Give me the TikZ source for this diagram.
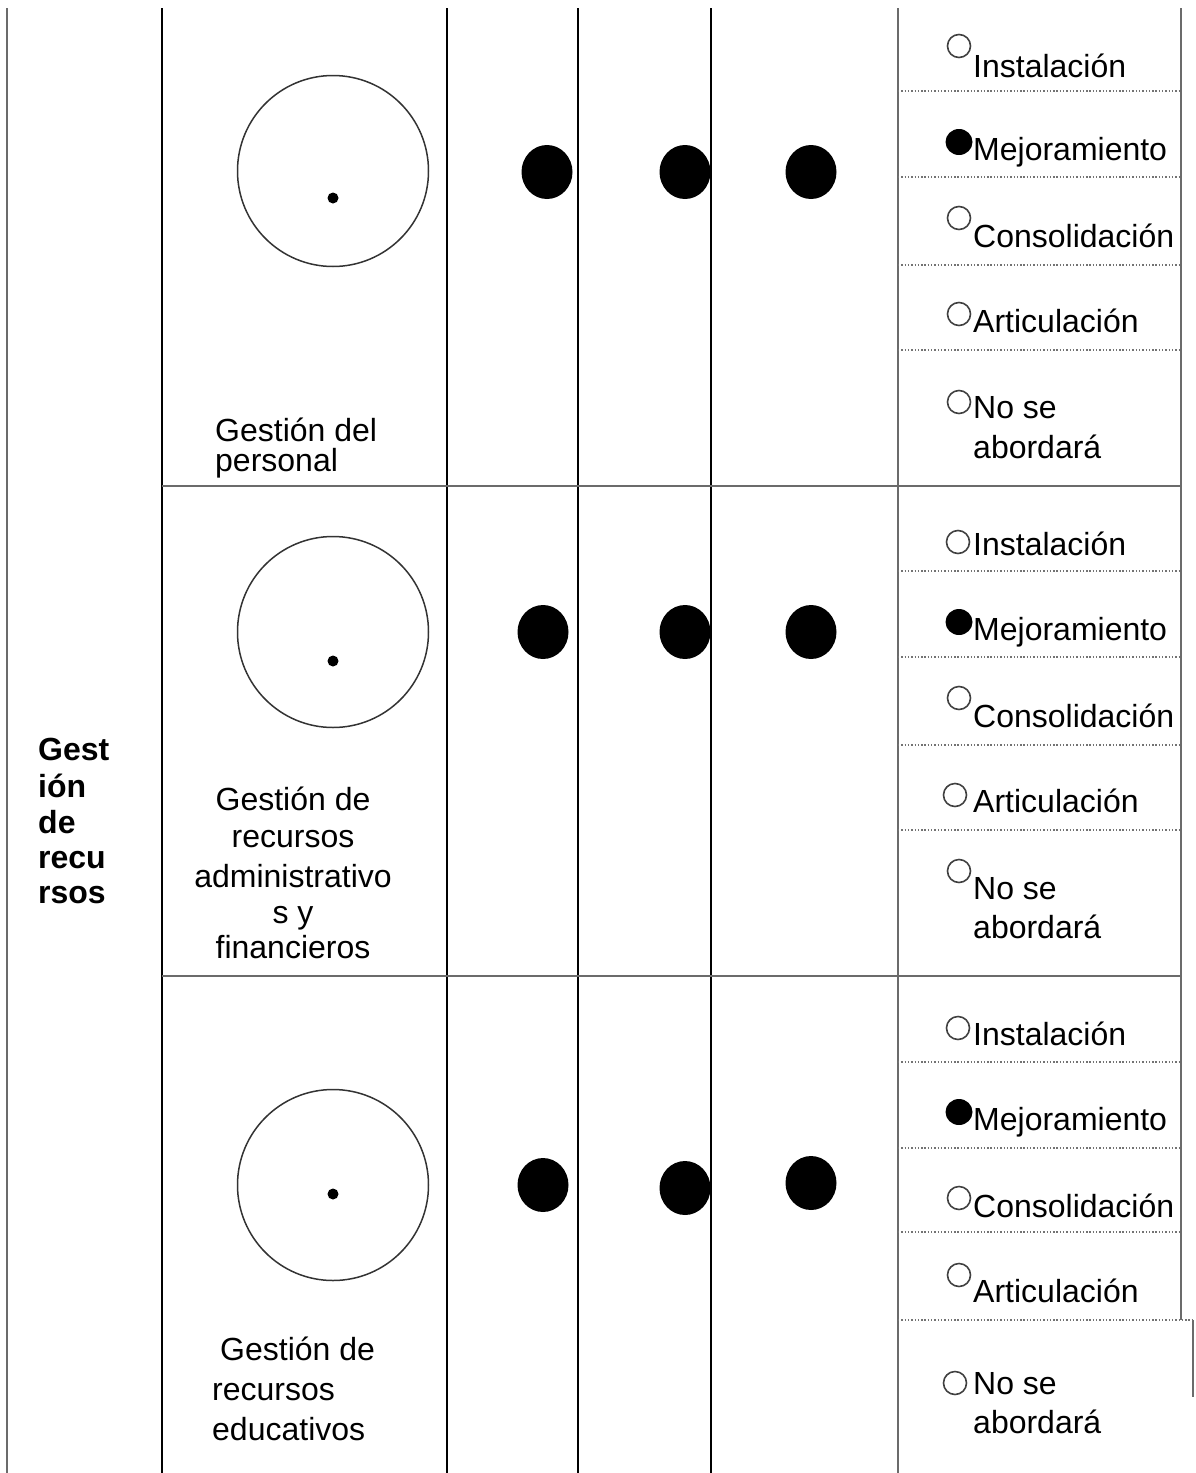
\documentclass[tikz,border=0pt]{standalone}
\usepackage{fontspec}
\setmainfont{Liberation Sans}
\usetikzlibrary{shapes.geometric}
\begin{document}
\begin{tikzpicture}[x=1pt,y=-1pt,
  gline/.style={line width=2pt, draw=black!58},
  bline/.style={line width=2pt, draw=black},
  dotline/.style={line width=1.2pt, draw=black!55, dash pattern=on 1.4pt off 1.9pt},
  txt/.style={anchor=base west, inner sep=0pt, font=\fontsize{32}{37}\selectfont},
  ctxt/.style={anchor=base, inner sep=0pt, font=\fontsize{32}{37}\selectfont},
  btxt/.style={anchor=base west, inner sep=0pt, font=\fontsize{32}{36}\selectfont\bfseries},
  bigc/.style={circle, draw=black!80, line width=1.5pt, minimum size=191pt, inner sep=0pt},
  dotc/.style={circle, fill=black, minimum size=11pt, inner sep=0pt},
  blob/.style={ellipse, fill=black, minimum width=51pt, minimum height=54pt, inner sep=0pt},
  radio/.style={circle, draw=black!75, line width=1.6pt, minimum size=23pt, inner sep=0pt},
  radiof/.style={ellipse, fill=black, minimum width=27pt, minimum height=26pt, inner sep=0pt},
]
\useasboundingbox (0,0) rectangle (1195,1473);
% vertical rules
\draw[gline] (7,8) -- (7,1473);
\draw[bline] (162,8) -- (162,1473);
\draw[bline] (447,8) -- (447,1473);
\draw[bline] (578,8) -- (578,1473);
\draw[bline] (711,8) -- (711,1473);
\draw[gline] (898,8) -- (898,1473);
\draw[gline] (1181,8) -- (1181,1320);
\draw[gline] (1193,1320) -- (1193,1397);
% horizontal rules
\draw[gline] (162,486) -- (1181,486);
\draw[gline] (162,976) -- (1181,976);
% dotted separators
\foreach \yy in {91,177,265,350,571,657,745,830,1062,1148,1232}
  \draw[dotline] (898,\yy) -- (1181,\yy);
\draw[dotline] (898,1320) -- (1193,1320);
% big circles with dots
\node[bigc] (c1) at (333,171) {};
\node[bigc] (c2) at (333,632) {};
\node[bigc] (c3) at (333,1185) {};
\node[dotc] (d1) at (333,198) {};
\node[dotc] (d2) at (333,661) {};
\node[dotc] (d3) at (333,1194) {};
% filled blobs
\node[blob] (b11) at (547,172) {};
\node[blob] (b12) at (685,172) {};
\node[blob] (b13) at (811,172) {};
\node[blob] (b21) at (543,632) {};
\node[blob] (b22) at (685,632) {};
\node[blob] (b23) at (811,632) {};
\node[blob] (b31) at (543,1185) {};
\node[blob] (b32) at (685,1188) {};
\node[blob] (b33) at (811,1183) {};
% left bold label
\node[btxt] (g1) at (38,760) {Gest};
\node[btxt] (g2) at (38,797) {ión};
\node[btxt] (g3) at (38,833) {de};
\node[btxt] (g4) at (38,868) {recu};
\node[btxt] (g5) at (38,903) {rsos};
% second column labels
\node[txt] (l11) at (215,441) {Gestión del};
\node[txt] (l12) at (215,471) {personal};
\node[ctxt] (l21) at (293,810) {Gestión de};
\node[ctxt] (l22) at (293,847) {recursos};
\node[ctxt] (l23) at (293,887) {administrativo};
\node[ctxt] (l24) at (293,923) {s y};
\node[ctxt] (l25) at (293,958) {financieros};
\node[txt] (l31) at (220,1360) {Gestión de};
\node[txt] (l32) at (212,1400) {recursos};
\node[txt] (l33) at (212,1440) {educativos};
% radio buttons row 1
\node[radio]  (r11) at (959,46) {};
\node[radiof] (r12) at (959,142) {};
\node[radio]  (r13) at (959,218) {};
\node[radio]  (r14) at (959,314) {};
\node[radio]  (r15) at (959,402) {};
\node[txt] (t11) at (973,77) {Instalación};
\node[txt] (t12) at (973,160) {Mejoramiento};
\node[txt] (t13) at (973,247) {Consolidación};
\node[txt] (t14) at (973,332) {Articulación};
\node[txt] (t15) at (973,418) {No se};
\node[txt] (t16) at (973,458) {abordará};
% radio buttons row 2
\node[radio]  (r21) at (958,542) {};
\node[radiof] (r22) at (959,622) {};
\node[radio]  (r23) at (959,698) {};
\node[radio]  (r24) at (955,795) {};
\node[radio]  (r25) at (959,871) {};
\node[txt] (t21) at (973,555) {Instalación};
\node[txt] (t22) at (973,640) {Mejoramiento};
\node[txt] (t23) at (973,727) {Consolidación};
\node[txt] (t24) at (973,812) {Articulación};
\node[txt] (t25) at (973,899) {No se};
\node[txt] (t26) at (973,938) {abordará};
% radio buttons row 3
\node[radio]  (r31) at (958,1028) {};
\node[radiof] (r32) at (959,1112) {};
\node[radio]  (r33) at (959,1198) {};
\node[radio]  (r34) at (959,1275) {};
\node[radio]  (r35) at (955,1383) {};
\node[txt] (t31) at (973,1045) {Instalación};
\node[txt] (t32) at (973,1130) {Mejoramiento};
\node[txt] (t33) at (973,1217) {Consolidación};
\node[txt] (t34) at (973,1302) {Articulación};
\node[txt] (t35) at (973,1394) {No se};
\node[txt] (t36) at (973,1433) {abordará};
\end{tikzpicture}
\end{document}
